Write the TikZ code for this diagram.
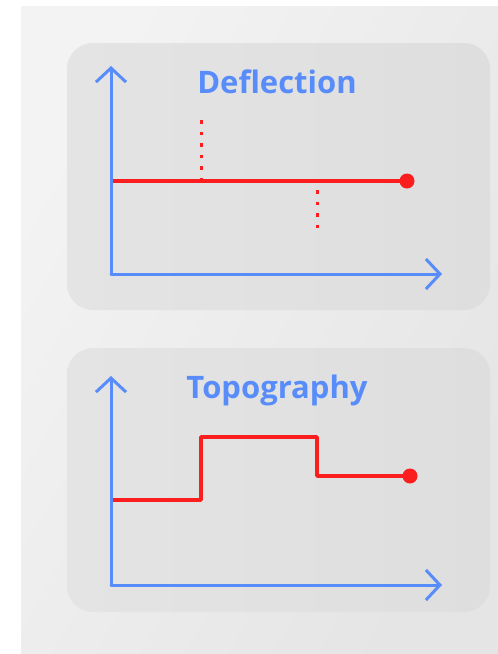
\documentclass[tikz,border=0pt]{standalone}
\usepackage{fontspec}
\setmainfont{Open Sans}
\usetikzlibrary{arrows.meta}
\definecolor{axisblue}{RGB}{88,140,250}
\definecolor{curvered}{RGB}{250,30,30}
\definecolor{outerA}{RGB}{243,243,243}
\definecolor{outerB}{RGB}{229,229,229}
\definecolor{panelA}{RGB}{228,228,228}
\definecolor{panelB}{RGB}{222,222,222}
\tikzset{
  axisline/.style={draw=axisblue, line width=3pt, line cap=round, line join=round,
    -{Straight Barb[length=14pt,width=30pt,line width=3pt]}},
  curve/.style={draw=curvered, line width=3.5pt, line join=round},
  dotline/.style={draw=curvered, line width=3pt, dash pattern=on 3.5pt off 8pt},
  enddot/.style={circle, fill=curvered, inner sep=0pt, minimum size=15pt},
  paneltitle/.style={text=axisblue, font=\fontsize{31}{31}\selectfont\bfseries, anchor=base, inner sep=0pt},
  panelbox/.style={rounded corners=26pt, left color=panelA, right color=panelB, draw=none}
}
\begin{document}
\begin{tikzpicture}[x=1pt,y=-1pt]
\useasboundingbox (0,0) rectangle (498,654);
\fill[white] (0,0) rectangle (498,654);
\shade[left color=outerA, right color=outerB, shading angle=60] (21,6) rectangle (498,654);
% upper panel
\shade[panelbox] (67,43) rectangle (490,310);
\node[paneltitle] (t1) at (277,93) {Deflection};
\coordinate (o1) at (111,274);
\coordinate (y1) at (111,66);
\coordinate (x1) at (442,274);
\draw[axisline] (o1) -- (y1);
\draw[axisline] (o1) -- (x1);
\coordinate (a1) at (113,181);
\node[enddot] (d1) at (407,181) {};
\draw[curve] (a1) -- (d1.center);
\coordinate (p1) at (201,118);
\coordinate (q1) at (201,181);
\coordinate (p2) at (317,190);
\coordinate (q2) at (317,230);
\draw[dotline] (q1) -- (p1);
\draw[dotline] (p2) -- (q2);
% lower panel
\shade[panelbox] (67,348) rectangle (490,612);
\node[paneltitle] (t2) at (277,398) {Topography};
\coordinate (o2) at (111,585);
\coordinate (y2) at (111,376);
\coordinate (x2) at (442,585);
\draw[axisline] (o2) -- (y2);
\draw[axisline] (o2) -- (x2);
\coordinate (s0) at (113,500);
\coordinate (s1) at (201,500);
\coordinate (s2) at (201,437);
\coordinate (s3) at (317,437);
\coordinate (s4) at (317,476);
\node[enddot] (d2) at (410,476) {};
\draw[curve] (s0) -- (s1) -- (s2) -- (s3) -- (s4) -- (d2.center);
\end{tikzpicture}
\end{document}
